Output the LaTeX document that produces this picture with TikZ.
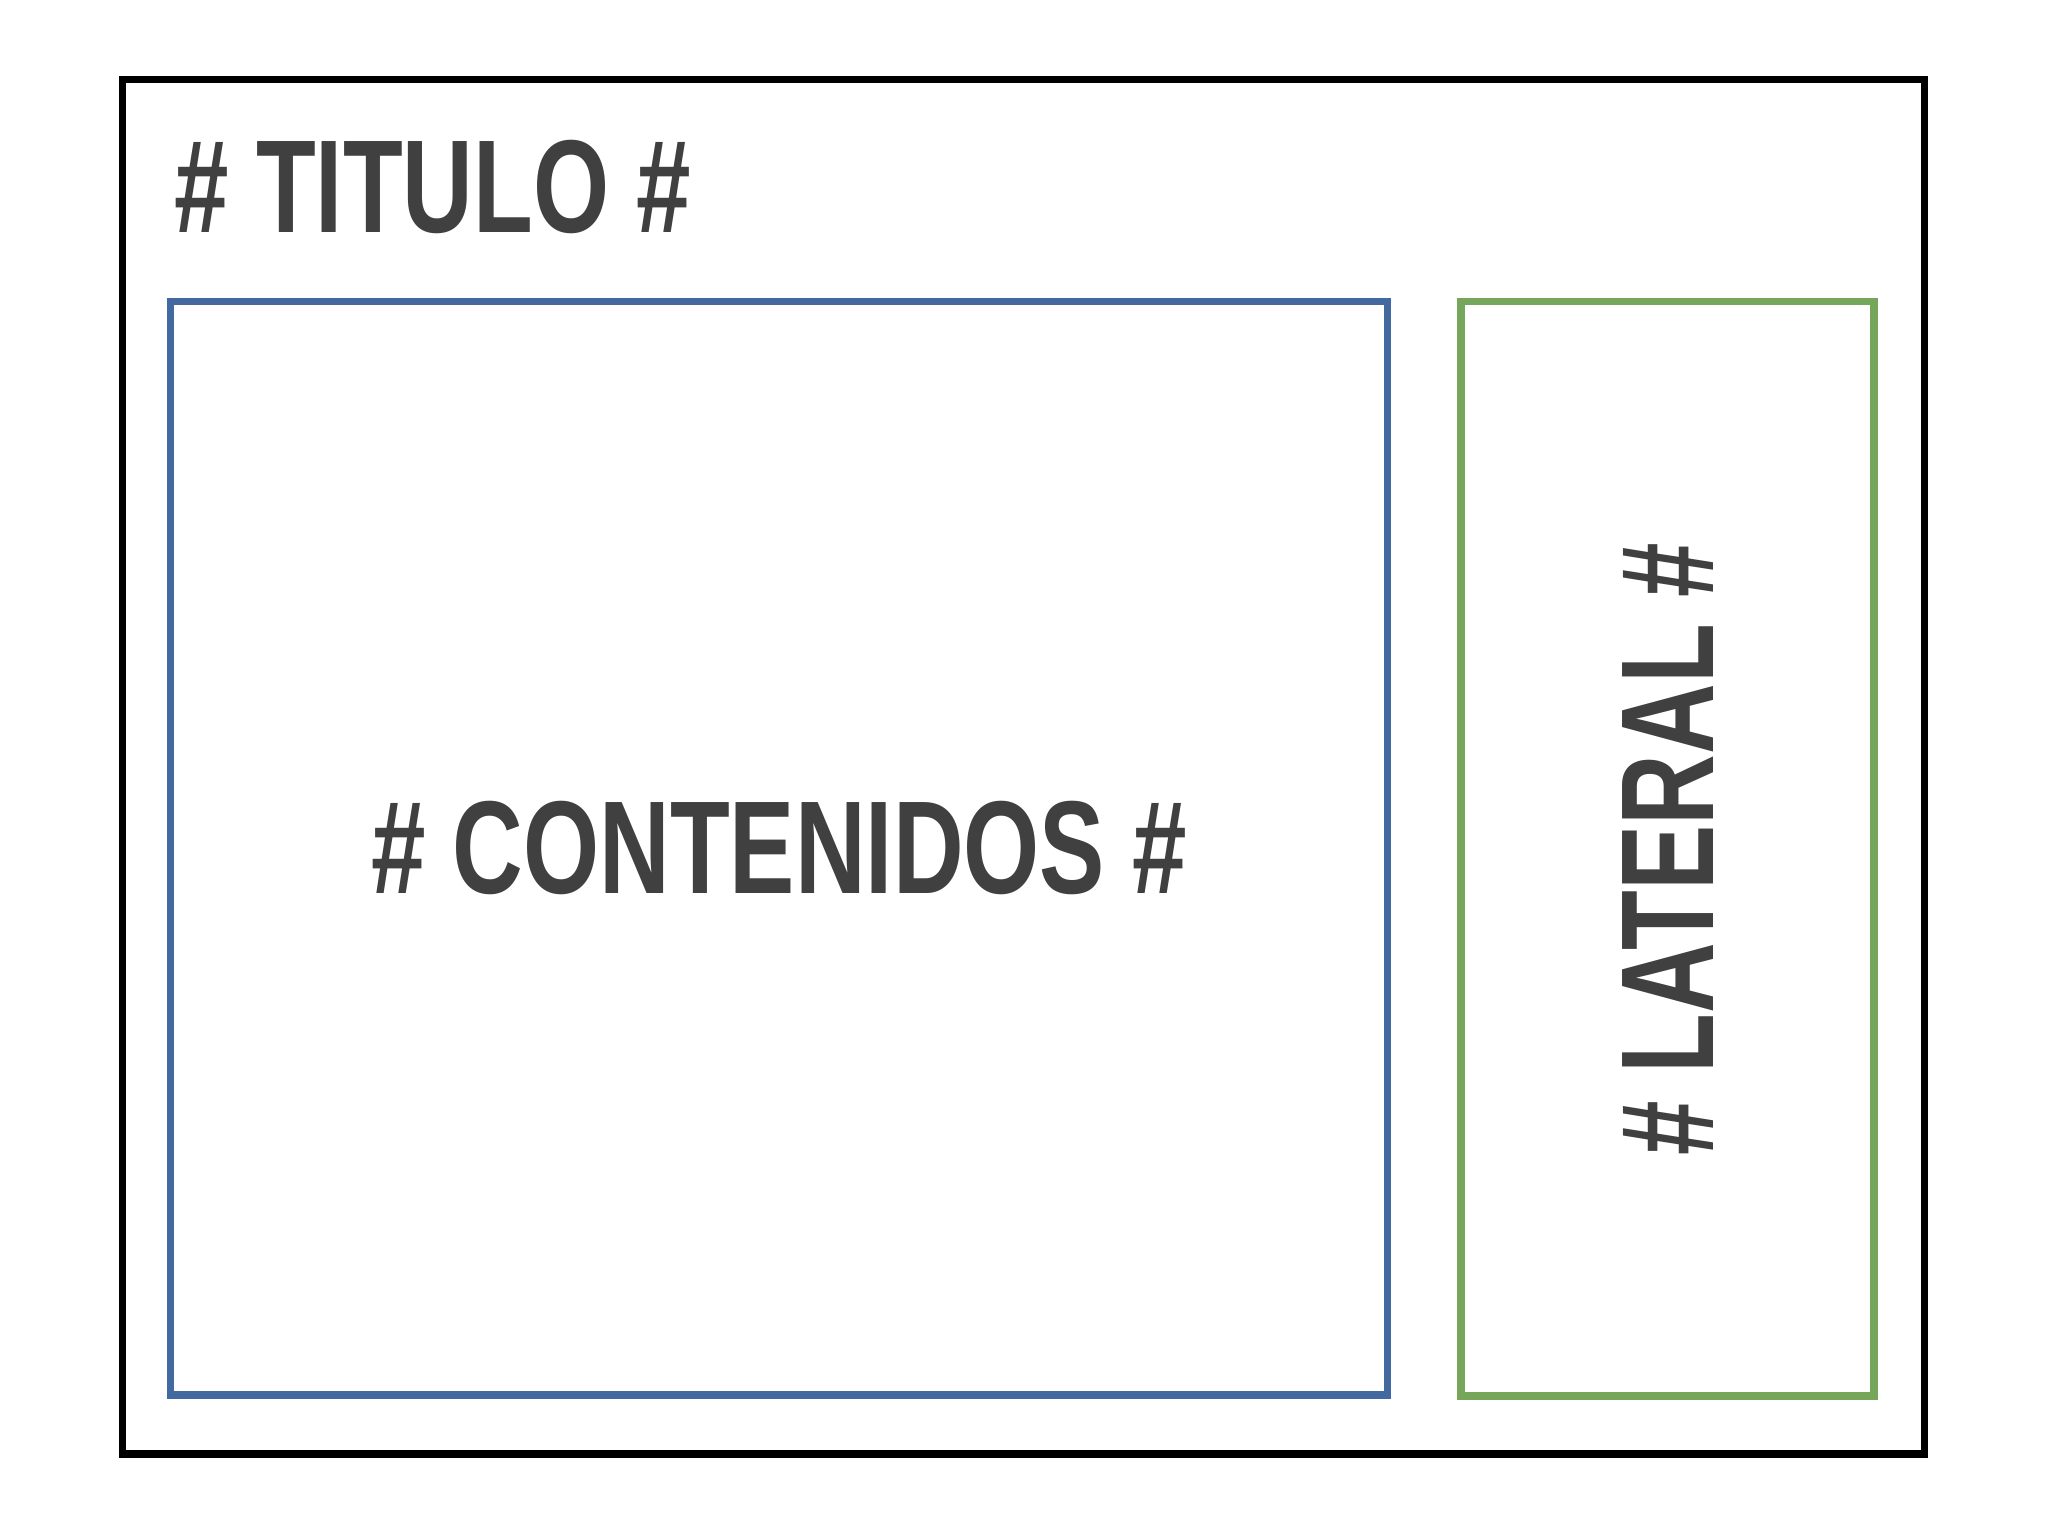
\documentclass[tikz,border=0pt]{standalone}
\usepackage{fontspec}
\usepackage{tikz}
\usetikzlibrary{positioning}
\newfontfamily\rotulo[FakeStretch=0.74]{Liberation Sans}
\definecolor{textogris}{RGB}{64,64,64}
\definecolor{azulcaja}{RGB}{66,106,160}
\definecolor{verdecaja}{RGB}{118,166,90}
\tikzset{
  caja/.style={draw, line width=2.1pt, inner sep=0pt, outer sep=0pt},
  rotulo/.style={text=textogris, font=\rotulo\bfseries\fontsize{37.6}{40}\selectfont, inner sep=0pt}
}

\begin{document}
\begin{tikzpicture}[x=0.01cm, y=-0.01cm]
\useasboundingbox (0,0) rectangle (2048,1536);
% Boxes
\node [caja, black, minimum width=18.01cm, minimum height=13.74cm] (pagina) at (1023.3,766.7) {};
\node [caja, azulcaja, minimum width=12.16cm, minimum height=10.93cm] (contenidos) at (779,848.3) {};
\node [caja, verdecaja, minimum width=4.13cm, minimum height=10.94cm] (lateral) at (1667.5,848.8) {};
% Labels
\node [rotulo, anchor=base west] (titulo) at (174,232) {\# TITULO \#};
\node [rotulo] (textocontenidos) at (contenidos.center) {\# CONTENIDOS \#};
\node [rotulo, rotate=90] (textolateral) at (lateral.center) {\# LATERAL \#};
\end{tikzpicture}
\end{document}
